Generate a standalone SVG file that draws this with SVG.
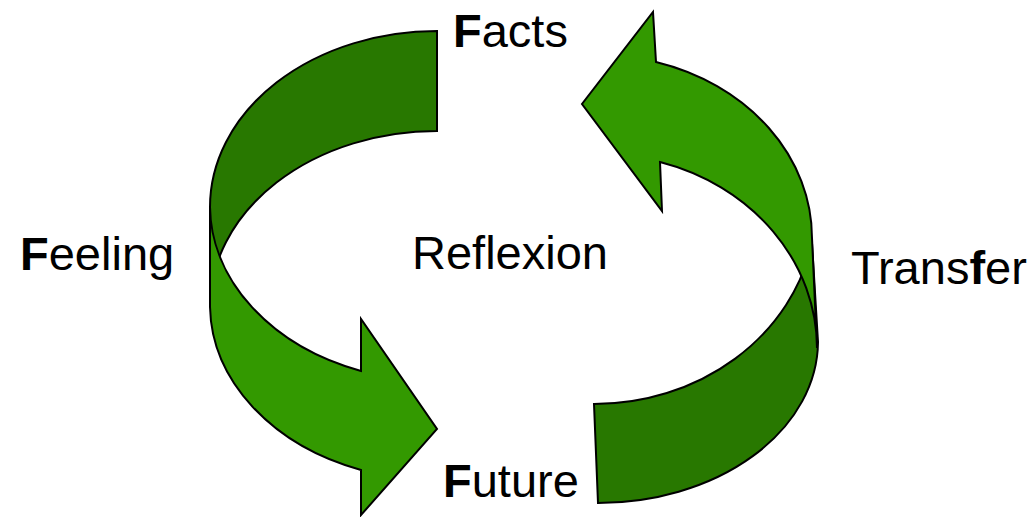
<svg xmlns="http://www.w3.org/2000/svg" width="1035" height="517" viewBox="0 0 1035 517">
<style>
.dark{fill:#287800;stroke:#000;stroke-width:2;stroke-linejoin:miter}
.light{fill:#339900;stroke:#000;stroke-width:2;stroke-linejoin:miter}
.lbl{font-family:"Liberation Sans",Arial,Helvetica,sans-serif;font-size:47px;fill:#000}
.b{font-weight:bold}
</style>
<rect width="1035" height="517" fill="#fff"/>
<g id="connectors">
  <g id="arrow-left">
    <path class="dark" d="M437,31 A227,176 0 0 0 210,207 L210,307 A227,176 0 0 1 437,131 Z"/>
    <path class="light" d="M210,207 L210,307 A227,176 0 0 0 361,470 L361,515 L437,429 L361,319 L361,371 A227,176 0 0 1 210,207 Z"/>
  </g>
  <g id="arrow-right">
    <path class="dark" d="M598,503 A220,162 0 0 0 818,342 L812,243 A222,199 0 0 1 594,404 Z"/>
    <path class="light" d="M653,12 L656,62 A215,183 0 0 1 812,238 L817,348 A217,194 0 0 0 660,162 L662,211 L582,104 Z"/>
  </g>
</g>
<g id="node-facts"><text class="lbl" x="453" y="47"><tspan class="b">F</tspan>acts</text></g>
<g id="node-feeling"><text class="lbl" x="20" y="270"><tspan class="b">F</tspan>eeling</text></g>
<g id="node-reflexion"><text class="lbl" x="412" y="269">Reflexion</text></g>
<g id="node-future"><text class="lbl" x="443" y="497"><tspan class="b">F</tspan>uture</text></g>
<g id="node-transfer"><text class="lbl" x="851" y="284">Trans<tspan class="b">f</tspan>er</text></g>
</svg>
